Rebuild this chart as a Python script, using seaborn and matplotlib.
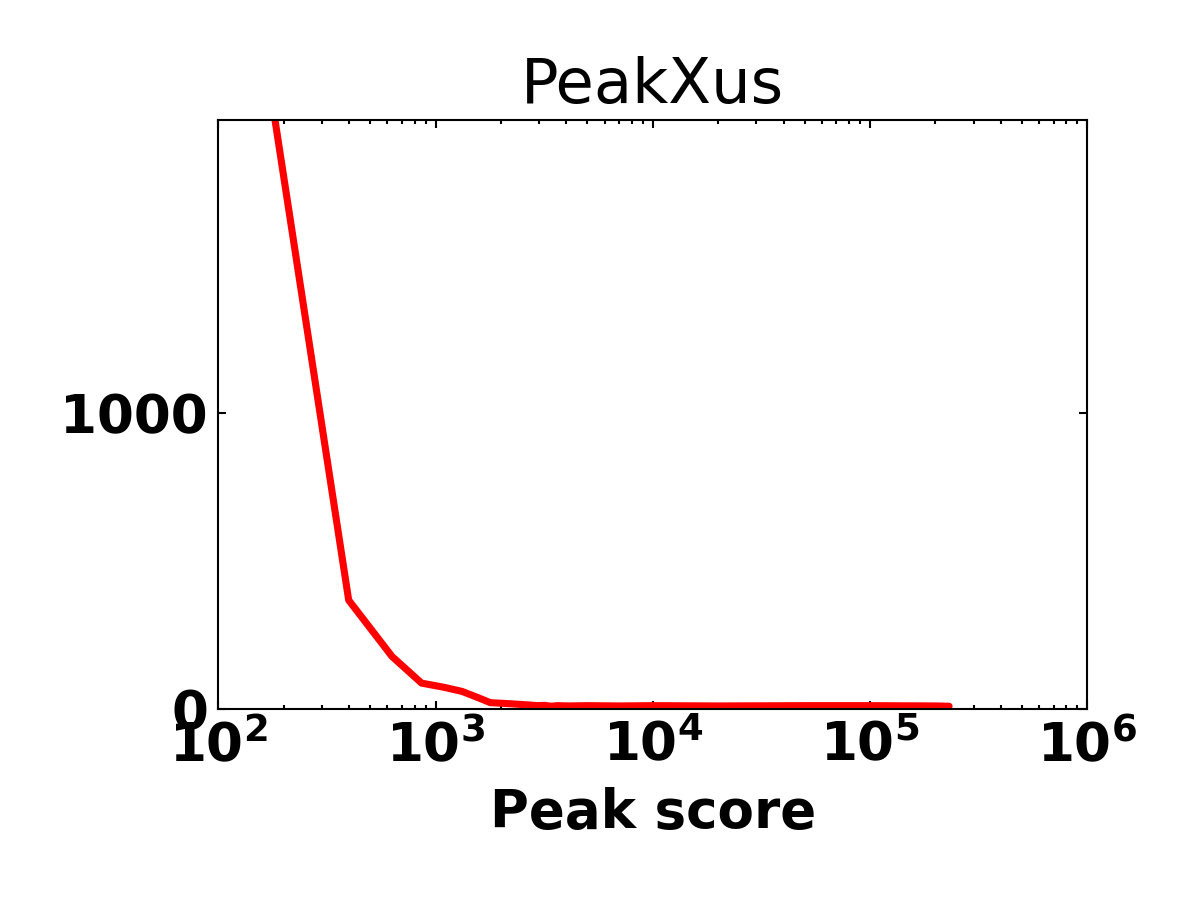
import matplotlib
matplotlib.use("Agg")
import matplotlib.pyplot as plt
import numpy as np
import pandas as pd
import seaborn as sns
from matplotlib.ticker import FuncFormatter, LogLocator, FixedLocator, NullLocator

# Data (histogram of peak scores, bin centers -> counts)
peak_score = [167, 398, 630, 862, 1093, 1324, 1556, 1787, 2018, 2250, 2481,
              2713, 2944, 3176, 3407, 3639, 4102, 5000, 7000, 10000, 20000,
              50000, 100000, 200000, 231300]
peak_count = [2170, 368, 178, 88, 74, 60, 40, 22, 20, 18, 16,
              14, 12, 13, 10, 12, 11, 12, 11, 12, 11,
              12, 12, 11, 10]
y_ticks = [0, 1000]
x_decades = [2, 3, 4, 5, 6]
title_text = "PeakXus"
x_label = "Peak score"

df = pd.DataFrame({"score": peak_score, "count": peak_count})

sns.set_style("white")
plt.rcParams["font.family"] = ["DejaVu Sans"]
plt.rcParams["mathtext.fontset"] = "dejavusans"
plt.rcParams["text.color"] = "black"
plt.rcParams["axes.labelcolor"] = "black"

fig, ax = plt.subplots(figsize=(8, 6), dpi=150)
fig.subplots_adjust(left=0.182, right=0.906, top=0.867, bottom=0.212)

sns.lineplot(data=df, x="score", y="count", color="#ff0000", linewidth=3.4,
             ax=ax, sort=True, estimator=None)

ax.set_xscale("log")
ax.set_xlim(10 ** x_decades[0], 10 ** x_decades[-1])
ax.set_ylim(0, 1990)

ax.xaxis.set_major_locator(FixedLocator([10.0 ** d for d in x_decades]))
ax.xaxis.set_minor_locator(LogLocator(base=10, subs=np.arange(2, 10), numticks=20))
ax.xaxis.set_major_formatter(FuncFormatter(lambda v, p: r"$\mathbf{10^{%d}}$" % round(np.log10(v))))
ax.yaxis.set_major_locator(FixedLocator(y_ticks))
ax.yaxis.set_minor_locator(NullLocator())

ax.tick_params(axis="both", which="both", direction="in", top=True, right=True,
               bottom=True, left=True, colors="black")
ax.tick_params(axis="both", which="major", length=8.3 * 72 / 150, width=1, pad=5,
               labelsize=25.5)
ax.tick_params(axis="both", which="minor", length=4 * 72 / 150, width=1)
for lab in ax.get_yticklabels():
    lab.set_fontweight("bold")

for sp in ax.spines.values():
    sp.set_visible(True)
    sp.set_color("black")
    sp.set_linewidth(1.0)

ax.set_title(title_text, fontsize=30, pad=8, color="black")
ax.set_xlabel(x_label, fontsize=25.5, fontweight="bold", labelpad=7, color="black")
ax.set_ylabel("")
ax.grid(False)

fig.savefig("out.png", dpi=150)
